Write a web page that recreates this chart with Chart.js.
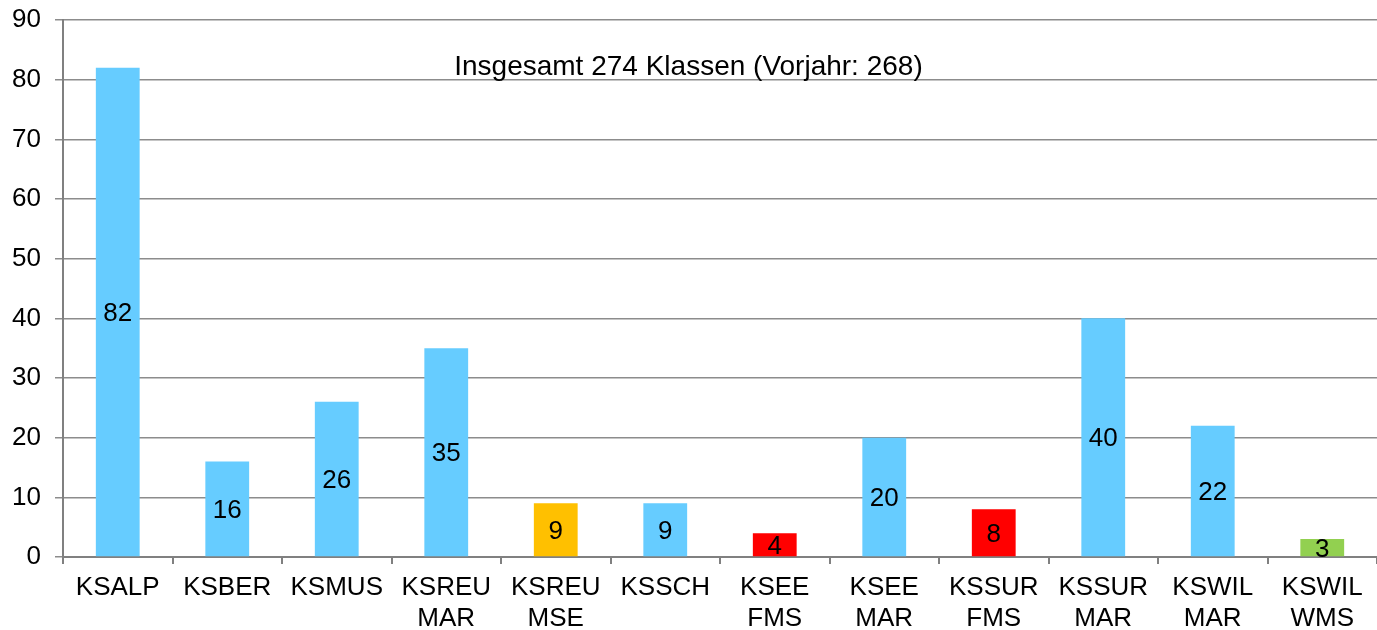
<!DOCTYPE html>
<html>
<head>
<meta charset="utf-8">
<script src="https://cdn.jsdelivr.net/npm/chart.js@4.4.0/dist/chart.umd.min.js"></script>
<style>
  html, body { margin: 0; padding: 0; background: #fff; }
  #wrap { width: 1377px; height: 630px; }
</style>
</head>
<body>
<div id="wrap"><canvas id="chart"></canvas></div>
<script>
const schools = [
  ["KSALP"], ["KSBER"], ["KSMUS"], ["KSREU", "MAR"], ["KSREU", "MSE"], ["KSSCH"],
  ["KSEE", "FMS"], ["KSEE", "MAR"], ["KSSUR", "FMS"], ["KSSUR", "MAR"], ["KSWIL", "MAR"], ["KSWIL", "WMS"],
];
const classes = [82, 16, 26, 35, 9, 9, 4, 20, 8, 40, 22, 3];
const barColors = [
  "#66CCFF", "#66CCFF", "#66CCFF", "#66CCFF", "#FFC000", "#66CCFF",
  "#FF0000", "#66CCFF", "#FF0000", "#66CCFF", "#66CCFF", "#92D050",
];
const yTicks = [0, 10, 20, 30, 40, 50, 60, 70, 80, 90];
const note = "Insgesamt 274 Klassen (Vorjahr: 268)";

const font = "Liberation Sans, Arial, sans-serif";

// values in the middle of each bar + the note line
const labelPlugin = {
  id: "labels",
  afterDatasetsDraw(chart) {
    const ctx = chart.ctx;
    const meta = chart.getDatasetMeta(0);
    ctx.save();
    ctx.fillStyle = "#000";
    ctx.textAlign = "center";
    ctx.textBaseline = "alphabetic";
    ctx.font = "26px " + font;
    meta.data.forEach((bar, i) => {
      ctx.fillText(String(classes[i]), bar.x, (bar.y + bar.base) / 2 + 9);
    });
    const area = chart.chartArea;
    ctx.font = "28px " + font;
    ctx.fillText(note, area.left + (area.right - area.left) * 0.476, chart.scales.y.getPixelForValue(80.8));
    ctx.restore();
  },
};

new Chart(document.getElementById("chart"), {
  type: "bar",
  data: {
    labels: schools,
    datasets: [{
      data: classes,
      backgroundColor: barColors,
      borderWidth: 0,
      barPercentage: 0.4,
      categoryPercentage: 1,
    }],
  },
  options: {
    responsive: true,
    maintainAspectRatio: false,
    animation: false,
    layout: { padding: { top: 20, right: 0, left: 0, bottom: 0 } },
    plugins: { legend: { display: false }, tooltip: { enabled: false } },
    scales: {
      x: {
        grid: { offset: true, drawOnChartArea: false, tickLength: 7, color: "#808080", lineWidth: 2 },
        border: { color: "#808080", width: 2 },
        ticks: { color: "#000", font: { family: font, size: 26, lineHeight: 1.2 }, padding: 8, maxRotation: 0, autoSkip: false },
        afterFit(scale) { scale.height = 73; },
      },
      y: {
        min: 0,
        max: 90,
        afterBuildTicks(scale) { scale.ticks = yTicks.map(v => ({ value: v })); },
        grid: { color: "#8c8c8c", lineWidth: 1.5, tickLength: 8 },
        border: { color: "#808080", width: 2 },
        ticks: { color: "#000", font: { family: font, size: 26 }, padding: 14 },
        afterFit(scale) {
          scale.width = 63;
          scale.paddingTop = 0;
          scale.paddingBottom = 0;
        },
      },
    },
  },
  plugins: [labelPlugin],
});
</script>
</body>
</html>
